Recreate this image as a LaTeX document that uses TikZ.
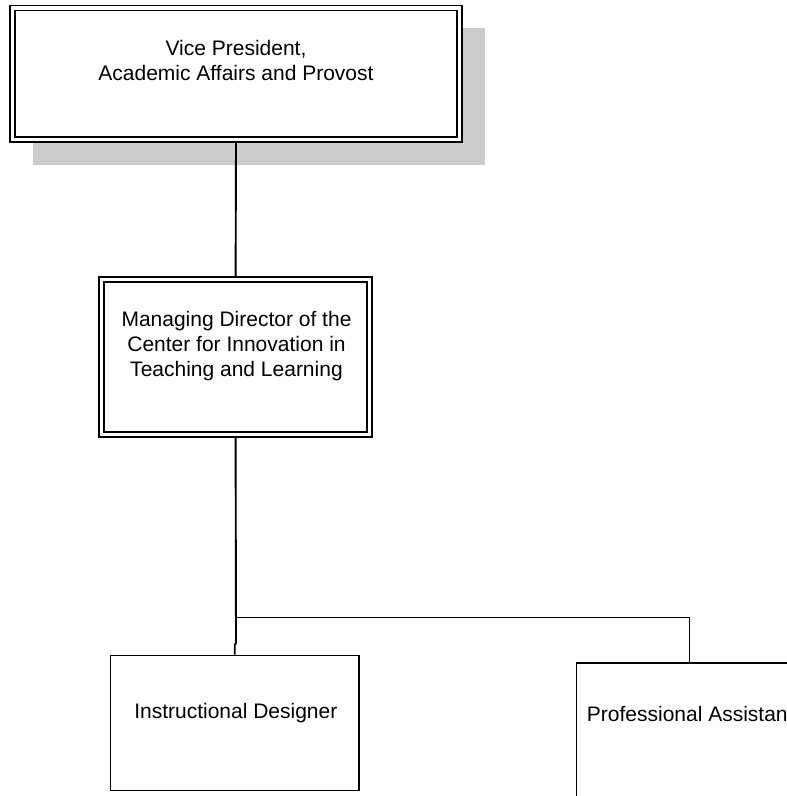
\documentclass[tikz,border=0pt]{standalone}
\usepackage{fontspec}
\setmainfont{Liberation Sans}
\definecolor{shadowgray}{HTML}{CCCCCC}
\begin{document}
\begin{tikzpicture}[x=1pt,y=-1pt,
  dbox/.style={draw, fill=white, line width=1.9pt, double, double distance=3.1pt,
    inner sep=0pt, outer sep=3.5pt},
  sbox/.style={draw, fill=white, line width=1.9pt, inner sep=0pt, outer sep=0.95pt},
  conn/.style={line width=1.9pt},
  lbl/.style={font=\fontsize{21}{25}\selectfont, align=center, inner sep=0pt}]
\useasboundingbox (0,0) rectangle (787,796);
\begin{scope}
\clip (0,0) rectangle (787,796);
% shadow
\fill[shadowgray] (32.5,28) rectangle (485,165);
% boxes
\node[dbox, minimum width=447pt, minimum height=131.5pt] (vp) at (236,73.75) {};
\node[dbox, minimum width=268.3pt, minimum height=154.4pt] (md) at (235.6,357) {};
\node[sbox, minimum width=248.5pt, minimum height=135pt] (id) at (234.75,723) {};
\node[sbox, minimum width=226pt, minimum height=135pt] (pa) at (689.5,730.5) {};
% texts
\node[lbl, anchor=north] (vpt) at (236,40.3) {Vice President,\\Academic Affairs and Provost};
\node[lbl, anchor=north] (mdt) at (236.5,310.8) {Managing Director of the\\Center for Innovation in\\Teaching and Learning};
\node[lbl, anchor=base] (idt) at (235.8,718.3) {Instructional Designer};
\node[lbl, anchor=base west] (pat) at (586.7,721) {Professional Assistant};
% connectors
\coordinate (j) at (236,617.5);
\coordinate (k) at (236,643);
\draw[conn] (vp.south) -- (md.north);
\draw[conn] (md.south) -- (k) -- ++(-1.3,2) -- (id.north);
\draw[conn] (j) -- (j -| pa.north) -- (pa.north);
\end{scope}
\end{tikzpicture}
\end{document}
